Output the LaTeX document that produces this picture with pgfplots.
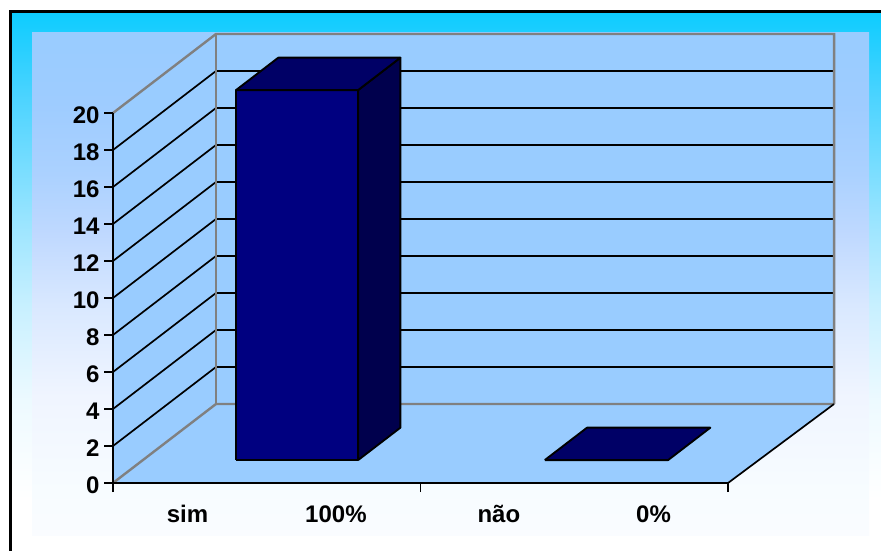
\documentclass[border=0pt]{standalone}
\usepackage{pgfplots}
\pgfplotsset{compat=1.18}
\usepackage{fontspec}
\setmainfont{Liberation Sans}
\definecolor{wall}{HTML}{99CCFF}
\definecolor{barfront}{HTML}{000080}
\definecolor{bartop}{HTML}{000066}
\definecolor{barside}{HTML}{00004D}
\definecolor{wallline}{HTML}{808080}
% vertical fades; the middle 50bp of a shading spans the filled path
\pgfdeclareverticalshading{outerfill}{100bp}{
  rgb(0bp)=(1,1,1); rgb(30bp)=(1,1,1); rgb(39bp)=(0.93,0.98,1);
  rgb(48bp)=(0.78,0.94,1); rgb(55bp)=(0.62,0.90,1);
  rgb(67bp)=(0.30,0.83,1); rgb(75bp)=(0.05,0.8,1); rgb(100bp)=(0.05,0.8,1)}
\pgfdeclareverticalshading{innerfill}{100bp}{
  rgb(0bp)=(0.98,0.99,1); rgb(25bp)=(0.98,0.99,1); rgb(29bp)=(0.97,0.99,1); rgb(39bp)=(0.94,0.96,1);
  rgb(48bp)=(0.85,0.91,1); rgb(55bp)=(0.75,0.85,1);
  rgb(61bp)=(0.67,0.82,1); rgb(68bp)=(0.62,0.80,1); rgb(75bp)=(0.6,0.8,1); rgb(100bp)=(0.6,0.8,1)}
\begin{document}
\begin{tikzpicture}[x=1pt,y=1pt]
\useasboundingbox (0,0) rectangle (881,551);
% page background and framed gradient panels
\fill[white] (0,0) rectangle (881,551);
\shade[shading=outerfill] (10.5,-2) rectangle (883,539.5);
\draw[black,line width=2.4pt] (10.5,-2) -- (10.5,539.5) -- (883,539.5);
\shade[shading=innerfill] (32,15) rectangle (869,518);
% oblique box: walls, floor and bars
\begin{axis}[
  at={(113pt,68pt)}, anchor=origin,
  x={(307.5pt,0pt)}, y={(103pt,79pt)}, z={(0pt,18.5pt)},
  xmin=0, xmax=2, ymin=0, ymax=1, zmin=0, zmax=20,
  clip=false, hide axis,
]
\addplot3[fill=wall,draw=none] coordinates {(0,0,0)(0,1,0)(0,1,20)(0,0,20)(0,0,0)};
\addplot3[fill=wall,draw=none] coordinates {(0,1,0)(2.01,1,0)(2.01,1,20)(0,1,20)(0,1,0)};
\addplot3[fill=wall,draw=none] coordinates {(0,0,0)(2,0,0)(2.01,1,0)(0,1,0)(0,0,0)};
% horizontal grid lines
\pgfplotsinvokeforeach{2,4,...,18}{
  \addplot3[black,line width=1.7pt] coordinates {(0,0,#1)(0,1,#1)(2.01,1,#1)};
}
% wall outlines
\addplot3[wallline,line width=2.4pt] coordinates {(0,0,0)(0,1,0)(2.01,1,0)};
\addplot3[wallline,line width=2.4pt] coordinates {(0,0,20)(0,1,20)(2.01,1,20)(2.01,1,0)};
\addplot3[wallline,line width=2.4pt] coordinates {(0,1,0)(0,1,20)};
\addplot3[black,line width=1.7pt] coordinates {(2,0,0)(2.01,1,0)};
% bar "sim" = 20
\addplot3[fill=barfront,draw=black,line width=1.9pt,line join=round] coordinates {(0.303,0.29,0)(0.7,0.29,0)(0.7,0.29,20)(0.303,0.29,20)(0.303,0.29,0)};
\addplot3[fill=barside,draw=black,line width=1.9pt,line join=round] coordinates {(0.7,0.29,0)(0.7,0.7,0)(0.7,0.7,20)(0.7,0.29,20)(0.7,0.29,0)};
\addplot3[fill=bartop,draw=black,line width=1.9pt,line join=round] coordinates {(0.303,0.29,20)(0.7,0.29,20)(0.7,0.7,20)(0.303,0.7,20)(0.303,0.29,20)};
% bar "não" = 0
\addplot3[fill=bartop,draw=black,line width=1.9pt,line join=round] coordinates {(1.307,0.29,0)(1.708,0.29,0)(1.708,0.7,0)(1.307,0.7,0)(1.307,0.29,0)};
\end{axis}
% front axes with their ticks and labels
\begin{axis}[
  at={(113pt,68pt)}, anchor=origin,
  x=307.5pt, y=18.5pt,
  xmin=0, xmax=2, ymin=0, ymax=20,
  clip=false,
  axis x line*=bottom, axis y line*=left,
  x axis line style={line width=2.4pt},
  y axis line style={line width=1.7pt},
  xtick={0,1,2}, xticklabels={},
  ytick={0,2,...,20},
  xtick style={black,line width=1.5pt},
  ytick style={draw=none},
  xtick align=outside, ytick align=outside,
  major tick length=9pt,
  extra x ticks={0.5,1.5},
  extra x tick labels={sim\hskip97pt 100\%, não\hskip116pt 0\%},
  extra x tick style={xtick style={draw=none}},
  /pgf/number format/assume math mode=true,
  ticklabel style={font=\bfseries\fontsize{24}{26}\selectfont},
  xticklabel style={yshift=-10pt},
  yticklabel style={xshift=-1pt,yshift=-2pt},
]
% short tick strokes left of the value axis
\pgfplotsinvokeforeach{0,2,...,20}{
  \addplot[black,line width=2pt] coordinates {(-0.029,#1)(0,#1)};
}
\end{axis}
\end{tikzpicture}
\end{document}
